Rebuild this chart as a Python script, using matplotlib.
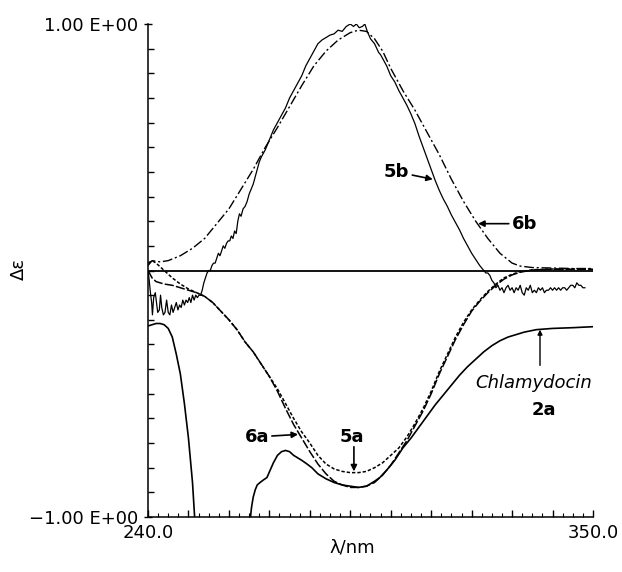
import numpy as np
import matplotlib
matplotlib.use("Agg")
import matplotlib.pyplot as plt

plt.rcParams['font.family'] = ['DejaVu Sans']

# ----------------------------
# CD spectra (wavelength in nm, delta-epsilon normalised)
# ----------------------------
wl_6b = [240, 241, 243, 245, 248, 251, 254, 257, 260, 263, 266, 269, 272, 275, 278,
         281, 284, 287, 290, 292, 294, 296, 298, 300, 303, 306, 309, 312, 315, 318,
         321, 324, 327, 330, 332, 335, 340, 345, 350]
de_6b = [0.02, 0.04, 0.035, 0.04, 0.06, 0.09, 0.13, 0.19, 0.25, 0.33, 0.41, 0.50, 0.58,
         0.665, 0.75, 0.83, 0.89, 0.935, 0.965, 0.975, 0.97, 0.94, 0.89, 0.82, 0.73, 0.65,
         0.56, 0.47, 0.37, 0.28, 0.20, 0.13, 0.07, 0.03, 0.018, 0.012, 0.01, 0.008, 0.008]

wl_5b = [240.0, 240.3, 240.6, 240.9, 241.1, 241.4, 241.8, 242.1, 242.4, 242.8, 243.1,
         243.4, 243.8, 244.2, 244.6, 245.0, 245.4, 245.8, 246.2, 246.6, 247.0, 247.4,
         247.8, 248.2, 248.6, 249.0, 249.4, 249.8, 250.2, 250.6, 251.0, 251.4, 251.8,
         252.2, 252.6, 253.0, 253.4, 253.8, 254.2, 254.6, 255.0, 255.4, 255.8, 256.2,
         256.6, 257.0, 257.4, 257.8, 258.2, 258.6, 259.0, 259.4, 259.8, 260.2, 260.6,
         261.0, 261.4, 261.8, 262.2, 262.6, 263.0, 263.5, 264.0, 264.5, 265.0, 265.5,
         266.0, 266.5, 267.0, 267.5, 268.0, 269, 270, 271, 272, 273, 274, 275, 276, 277,
         278, 279, 280, 281, 282, 283, 284, 285, 286, 287, 288, 289, 290, 290.8, 291.5,
         292.2, 293, 293.6, 294.2, 295, 296, 297, 297.5, 298, 299, 300, 301, 302, 303, 304,
         305, 306, 307, 308, 309, 310, 311, 312, 313, 314, 315, 316, 317, 318, 319, 320,
         321, 322, 323, 323.5, 324, 324.5, 325, 325.5, 326, 326.5, 327, 327.5, 328, 328.5,
         329, 329.5, 330, 330.5, 331, 331.5, 332, 332.5, 333, 333.5, 334, 334.5, 335,
         335.5, 336, 336.5, 337, 337.5, 338, 338.5, 339, 339.5, 340, 340.5, 341, 341.5,
         342, 342.5, 343, 343.5, 344, 344.5, 345, 345.5, 346, 346.5, 347, 347.5, 348]
de_5b = [0.00, -0.04, -0.09, -0.13, -0.18, -0.11, -0.09, -0.13, -0.17, -0.16, -0.10,
         -0.15, -0.18, -0.17, -0.12, -0.17, -0.18, -0.14, -0.17, -0.15, -0.13, -0.16,
         -0.14, -0.15, -0.12, -0.14, -0.12, -0.13, -0.11, -0.13, -0.10, -0.12, -0.10,
         -0.11, -0.10, -0.10, -0.08, -0.05, -0.03, -0.01, 0.00, 0.00, 0.02, 0.03,
         0.03, 0.05, 0.07, 0.06, 0.08, 0.10, 0.09, 0.11, 0.12, 0.12, 0.14,
         0.13, 0.16, 0.15, 0.20, 0.23, 0.22, 0.25, 0.26, 0.28, 0.31, 0.33,
         0.35, 0.38, 0.41, 0.44, 0.46, 0.49, 0.53, 0.57, 0.60, 0.63, 0.66, 0.70, 0.73, 0.76,
         0.79, 0.83, 0.86, 0.89, 0.92, 0.935, 0.945, 0.955, 0.96, 0.975, 0.97, 0.99, 1.00, 0.99, 1.00,
         0.985, 0.99, 1.00, 0.97, 0.94, 0.92, 0.885, 0.875, 0.86, 0.83, 0.79, 0.765, 0.73, 0.70, 0.67,
         0.635, 0.595, 0.545, 0.50, 0.455, 0.41, 0.365, 0.325, 0.29, 0.26, 0.225, 0.195, 0.165, 0.13, 0.10, 0.07,
         0.045, 0.02, 0.00, -0.01, -0.01, -0.02, -0.04, -0.05, -0.07, -0.06, -0.08, -0.07, -0.09, -0.07,
         -0.06, -0.08, -0.07, -0.09, -0.07, -0.08, -0.06, -0.09, -0.10, -0.07, -0.08, -0.06, -0.09,
         -0.08, -0.09, -0.07, -0.08, -0.07, -0.09, -0.08, -0.08, -0.07, -0.08, -0.07, -0.08, -0.07,
         -0.08, -0.07, -0.07, -0.08, -0.07, -0.06, -0.06, -0.07, -0.05, -0.06, -0.06, -0.07, -0.07]

wl_5a = [240, 241, 242, 244, 246, 248, 250, 252, 254, 256, 258, 260, 262, 264, 266, 268,
         270, 272, 274, 276, 278, 280, 282, 284, 286, 288, 290, 292, 294, 296, 298, 300,
         302, 304, 306, 308, 310, 312, 314, 316, 318, 320, 322, 324, 326, 328, 330, 332,
         335, 340, 345, 350]
de_5a = [0.03, 0.04, 0.03, 0.0, -0.03, -0.055, -0.075, -0.09, -0.105, -0.13, -0.165,
         -0.20, -0.24, -0.29, -0.33, -0.38, -0.43, -0.48, -0.54, -0.60, -0.655, -0.70,
         -0.75, -0.785, -0.805, -0.815, -0.82, -0.82, -0.815, -0.80, -0.78, -0.75, -0.72,
         -0.675, -0.62, -0.56, -0.49, -0.41, -0.34, -0.27, -0.21, -0.16, -0.12, -0.085,
         -0.055, -0.03, -0.015, -0.005, 0.003, 0.006, 0.006, 0.006]

wl_6a = [240, 241, 242, 244, 246, 248, 250, 252, 254, 256, 258, 260, 262, 264, 266, 268,
         270, 272, 274, 276, 278, 280, 282, 284, 286, 288, 290, 292, 294, 296, 298, 300,
         302, 304, 306, 308, 310, 312, 314, 316, 318, 320, 322, 324, 326, 328, 330, 332,
         335, 340, 345, 350]
de_6a = [0.0, -0.03, -0.045, -0.055, -0.06, -0.07, -0.08, -0.09, -0.105, -0.13, -0.165,
         -0.20, -0.24, -0.29, -0.33, -0.38, -0.43, -0.49, -0.56, -0.625, -0.68, -0.735,
         -0.785, -0.825, -0.855, -0.87, -0.88, -0.88, -0.875, -0.86, -0.83, -0.79, -0.74,
         -0.69, -0.63, -0.57, -0.50, -0.42, -0.35, -0.28, -0.22, -0.165, -0.125, -0.09,
         -0.06, -0.035, -0.018, -0.007, 0.002, 0.005, 0.005, 0.005]

# chlamydocin 2a: runs off the bottom of the scale between ~251.6 and ~265.2 nm
wl_2a = [240, 241, 242, 243, 244, 245, 246, 247, 248, 249, 250, 251, 251.6, np.nan,
         265.2, 265.6, 266, 266.5, 267, 267.7, 268.5, 269.4, 270.2, 271, 272, 273, 274,
         275, 276, 277, 278, 279.3, 280.5, 282, 284, 286, 288, 290, 292, 294, 296, 297.3,
         299, 301, 303, 305, 307, 309, 311, 313, 315, 317, 319, 321, 323, 325, 327, 329,
         331, 333, 336, 340, 345, 350]
de_2a = [-0.225, -0.22, -0.215, -0.215, -0.22, -0.235, -0.27, -0.34, -0.42, -0.54, -0.68,
         -0.86, -1.02, np.nan,
         -1.02, -0.96, -0.92, -0.89, -0.87, -0.86, -0.85, -0.84, -0.81, -0.78, -0.75, -0.735,
         -0.73, -0.735, -0.75, -0.76, -0.77, -0.785, -0.80, -0.825, -0.845, -0.86, -0.87,
         -0.875, -0.88, -0.875, -0.855, -0.84, -0.81, -0.77, -0.72, -0.68, -0.635, -0.59,
         -0.545, -0.505, -0.465, -0.425, -0.39, -0.36, -0.33, -0.305, -0.285, -0.27, -0.26,
         -0.25, -0.24, -0.235, -0.232, -0.228]


# ----------------------------
# Plot
# ----------------------------
fig = plt.figure(figsize=(6.22, 5.72), dpi=100)
ax = fig.add_axes([148/622, 1 - 517/572, 445/622, 493/572])

ax.axhline(0, color="black", lw=1.3, zorder=1)
ax.plot(wl_6b, de_6b, color="black", lw=1.0, ls=(0, (7, 2, 1.5, 2)))
ax.plot(wl_5b, de_5b, color="black", lw=0.9)
ax.plot(wl_5a, de_5a, color="black", lw=1.1, ls=(0, (2.2, 1.3)))
ax.plot(wl_6a, de_6a, color="black", lw=1.1, ls=(0, (6, 1.5)))
ax.plot(wl_2a, de_2a, color="black", lw=1.2)

ax.set_xlim(240, 350)
ax.set_ylim(-1.0, 1.0)

for s in ["top", "right"]:
    ax.spines[s].set_visible(False)
ax.spines["left"].set_linewidth(1.1)
ax.spines["bottom"].set_linewidth(1.1)

ax.set_yticks([-1.0, 1.0], labels=["\u22121.00 E+00", "1.00 E+00"])
ax.set_yticks(np.arange(-0.9, 0.95, 0.1), minor=True)
ax.tick_params(axis="y", which="major", direction="inout", length=6, width=1.0,
               labelsize=13, pad=4)
ax.tick_params(axis="y", which="minor", direction="in", length=4, width=1.0)

ax.set_xticks(np.arange(240, 351, 10),
              labels=["240.0"] + [""] * 10 + ["350.0"])
ax.set_xticks(np.arange(240, 350.1, 2.5), minor=True)
ax.tick_params(axis="x", which="major", direction="in", length=5, width=1.0,
               labelsize=13, pad=5)
ax.tick_params(axis="x", which="minor", direction="in", length=3, width=0.8)

fig.text(352/622, 1 - 548/572, "\u03bb/nm", ha="center", va="center", fontsize=13)
fig.text(19/622, 1 - 269/572, "\u0394\u03b5", ha="center", va="center",
         fontsize=13, rotation=90)

# curve labels with arrows
arrow = dict(arrowstyle="-|>", color="black", lw=1.2, mutation_scale=9,
             shrinkA=0, shrinkB=0)
ax.annotate("5b", xy=(310.4, 0.37), xytext=(301.5, 0.40), ha="center", va="center",
            fontsize=13, fontweight="bold", arrowprops=arrow)
ax.annotate("6b", xy=(321.6, 0.19), xytext=(333.0, 0.19), ha="center", va="center",
            fontsize=13, fontweight="bold", arrowprops=arrow)
ax.annotate("6a", xy=(277.1, -0.665), xytext=(266.9, -0.675), ha="center", va="center",
            fontsize=13, fontweight="bold", arrowprops=arrow)
ax.annotate("", xy=(290.9, -0.815), xytext=(290.9, -0.715), arrowprops=arrow)
ax.text(290.4, -0.675, "5a", ha="center", va="center", fontsize=13, fontweight="bold")
ax.annotate("", xy=(336.9, -0.24), xytext=(336.9, -0.385),
            arrowprops=dict(arrowstyle="-|>", color="black", lw=1.0, mutation_scale=7,
                            shrinkA=0, shrinkB=0))
ax.text(335.4, -0.457, "Chlamydocin", ha="center", va="center", fontsize=13,
        style="italic")
ax.text(337.9, -0.566, "2a", ha="center", va="center", fontsize=13, fontweight="bold")

fig.savefig("out.png", dpi=100)
